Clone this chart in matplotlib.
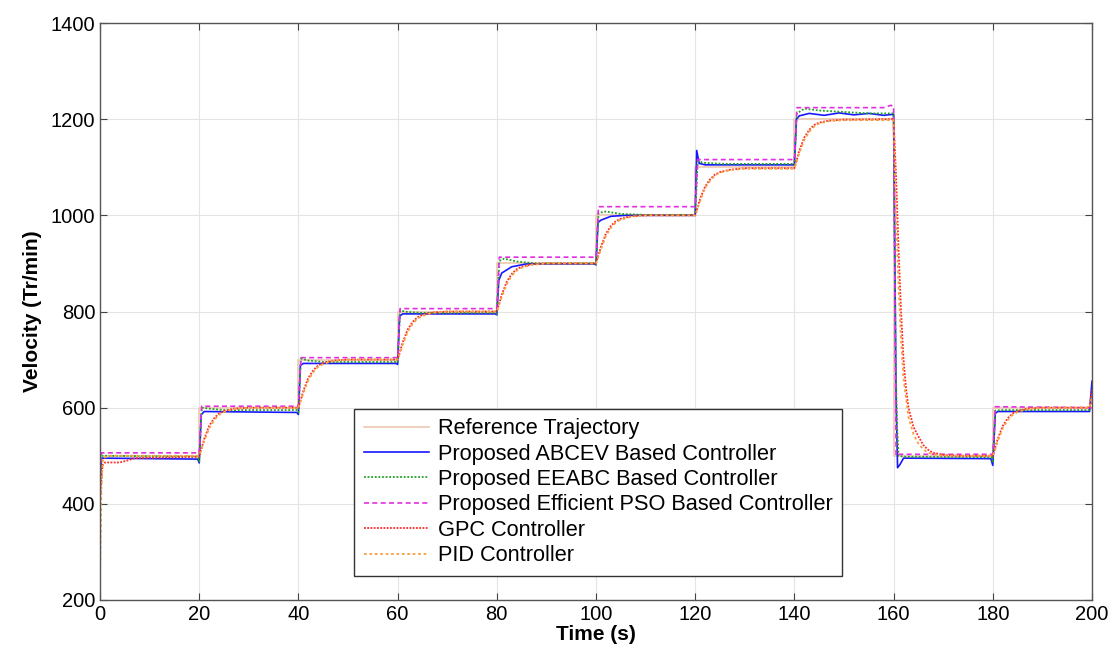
import matplotlib
matplotlib.use("Agg")
import matplotlib.pyplot as plt
import numpy as np

plt.rcParams['font.family'] = ['Liberation Sans', 'DejaVu Sans']

# reference staircase
ref_t = [0, 20, 40, 60, 80, 100, 120, 140, 160, 180, 200]
ref_v = [500, 600, 700, 800, 900, 1000, 1100, 1200, 500, 600, 600]

# Proposed ABCEV (blue)
abcev_t = [0, 0.3, 19.7,
           20, 20.4, 21, 39.7,
           40, 40.4, 41, 59.7,
           60, 60.4, 61, 79.7,
           80, 80.4, 81, 83, 86, 99.7,
           100, 100.4, 101, 103, 106, 119.7,
           120, 120.3, 120.8, 122, 139.7,
           140, 140.4, 141, 143, 146, 149, 152, 155, 158, 159.8,
           160, 160.5, 160.8, 161.3, 162, 179.6,
           180, 180.5, 181, 199.5, 200]
abcev_v = [430, 495, 493,
           485, 585, 592, 590,
           586, 688, 692, 692,
           690, 790, 795, 795,
           793, 865, 880, 893, 899, 899,
           897, 985, 990, 998, 1000, 1000,
           1000, 1135, 1108, 1105, 1105,
           1105, 1200, 1207, 1212, 1208, 1213, 1209, 1212, 1208, 1210,
           1210, 620, 475, 482, 495, 494,
           480, 588, 592, 592, 655]

# Proposed EEABC (green)
eeabc_t = [0, 0.3, 19.7,
           20, 20.5, 22, 25, 39.7,
           40, 40.5, 42, 45, 59.7,
           60, 60.5, 62, 65, 79.7,
           80, 80.5, 81.5, 84, 88, 99.7,
           100, 100.5, 102, 105, 110, 119.7,
           120, 120.5, 122, 126, 139.7,
           140, 140.5, 142, 145, 150, 155, 159.8,
           160, 160.4, 160.7, 161, 162, 179.7,
           180, 180.5, 182, 199.5, 200]
eeabc_v = [440, 500, 498,
           488, 600, 598, 595, 595,
           590, 702, 698, 695, 695,
           694, 802, 799, 797, 797,
           795, 905, 910, 904, 900, 900,
           898, 1005, 1008, 1003, 1001, 1001,
           1000, 1112, 1109, 1107, 1107,
           1105, 1212, 1222, 1218, 1215, 1212, 1212,
           1212, 700, 560, 500, 498, 497,
           485, 594, 595, 595, 620]

# Proposed Efficient PSO (magenta)
pso_t = [0, 0.3, 19.8,
         20, 20.5, 39.8,
         40, 40.5, 59.8,
         60, 60.5, 79.8,
         80, 80.5, 99.8,
         100, 100.5, 119.8,
         120, 120.5, 139.8,
         140, 140.5, 158, 159.5, 159.8,
         160, 160.5, 161, 179.8,
         180, 180.5, 199.8, 200]
pso_v = [450, 506, 506,
         506, 603, 603,
         603, 704, 704,
         704, 806, 806,
         806, 913, 913,
         913, 1018, 1018,
         1018, 1116, 1116,
         1116, 1224, 1224, 1229, 1226,
         1226, 500, 503, 503,
         503, 602, 600, 610]

# GPC (red)
gpc_t = [0, 0.5, 1, 4, 5.5, 7, 19.8,
         20, 21, 22, 23, 24, 25, 27, 30, 39.8,
         40, 41, 42, 43, 44, 45, 47, 50, 59.8,
         60, 61, 62, 63, 64, 65, 67, 70, 79.8,
         80, 81, 82, 83, 84, 85, 87, 90, 99.8,
         100, 101, 102, 103, 104, 105, 107, 110, 119.8,
         120, 121, 122, 123, 124, 125, 127, 130, 139.8,
         140, 141, 142, 143, 144, 145, 147, 150, 159.8,
         160, 160.5, 161, 161.5, 162, 162.5, 163, 164, 165, 166, 167, 168, 170, 173, 179.8,
         180, 181, 182, 183, 184, 185, 187, 190, 199.5, 200]
gpc_v = [405, 480, 486, 486, 490, 495, 498,
         498, 535, 562, 578, 588, 593, 598, 600, 600,
         600, 635, 662, 678, 688, 693, 698, 700, 700,
         700, 735, 762, 778, 788, 793, 798, 800, 800,
         800, 835, 862, 878, 888, 893, 898, 900, 900,
         900, 935, 962, 978, 988, 993, 998, 1000, 1000,
         1000, 1035, 1060, 1075, 1085, 1090, 1095, 1098, 1098,
         1098, 1135, 1162, 1178, 1188, 1193, 1197, 1199, 1200,
         1200, 1080, 930, 800, 700, 640, 600, 560, 540, 522, 512, 506, 502, 500, 500,
         500, 535, 562, 578, 588, 593, 598, 600, 600, 640]

# PID (orange)
pid_t = [0, 0.3, 0.6, 2, 19.8,
         20, 21, 22, 23, 24, 25, 27, 30, 39.8,
         40, 41, 42, 43, 44, 45, 47, 50, 59.8,
         60, 61, 62, 63, 64, 65, 67, 70, 79.8,
         80, 81, 82, 83, 84, 85, 87, 90, 99.8,
         100, 101, 102, 103, 104, 105, 107, 110, 119.8,
         120, 121, 122, 123, 124, 125, 127, 130, 139.8,
         140, 141, 142, 143, 144, 145, 147, 150, 159.8,
         160, 160.5, 161, 161.5, 162, 163, 164, 165, 166, 167, 169, 172, 179.8,
         180, 181, 182, 183, 184, 185, 187, 190, 199.5, 200]
pid_v = [250, 440, 495, 500, 500,
         500, 530, 557, 574, 585, 591, 597, 600, 600,
         600, 630, 657, 674, 685, 691, 697, 700, 700,
         700, 730, 757, 774, 785, 791, 797, 800, 800,
         800, 830, 857, 874, 885, 891, 897, 900, 900,
         900, 930, 957, 974, 985, 991, 997, 1000, 1000,
         1000, 1030, 1057, 1072, 1083, 1089, 1094, 1097, 1097,
         1097, 1130, 1157, 1174, 1185, 1191, 1196, 1198, 1198,
         1198, 1000, 850, 740, 660, 580, 545, 525, 513, 506, 501, 500, 500,
         500, 530, 557, 574, 585, 591, 597, 600, 600, 625]

fig = plt.figure(figsize=(11.2, 6.54), dpi=100)
ax = fig.add_axes([0.0893, 0.0826, 0.8857, 0.8822])

ax.plot(ref_t, ref_v, color='#ecc8b2', lw=1.2, drawstyle='steps-post',
        label='Reference Trajectory')
ax.plot(abcev_t, abcev_v, color='#1818ff', lw=1.2,
        label='Proposed ABCEV Based Controller')
ax.plot(eeabc_t, eeabc_v, color='#20a020', lw=1.3, ls=(0, (1, 1)),
        label='Proposed EEABC Based Controller')
ax.plot(pso_t, pso_v, color='#e030e0', lw=1.2, ls=(0, (3, 2)),
        label='Proposed Efficient PSO Based Controller')
ax.plot(gpc_t, gpc_v, color='#ff2828', lw=1.3, ls=(0, (1, 0.8)),
        label='GPC Controller')
ax.plot(pid_t, pid_v, color='#f5a040', lw=1.3, ls=(0, (1.5, 1.5)),
        label='PID Controller')

ax.set_xlim(0, 200)
ax.set_ylim(200, 1400)
ax.set_xticks(np.arange(0, 201, 20))
ax.set_yticks(np.arange(200, 1401, 200))
ax.grid(True, color='#e4e4e4', lw=0.8)
ax.tick_params(direction='in', top=True, right=True, length=5,
               labelsize=14.5, color='#444444')
for s in ax.spines.values():
    s.set_color('#555555')
    s.set_linewidth(1.0)

ax.set_xlabel('Time (s)', fontsize=15, fontweight='bold', labelpad=1)
ax.set_ylabel('Velocity (Tr/min)', fontsize=15, fontweight='bold', labelpad=6)

leg = ax.legend(loc='lower left', bbox_to_anchor=(0.256, 0.0416),
                borderaxespad=0, fontsize=15.7, fancybox=False,
                handlelength=3.0, handletextpad=0.4, labelspacing=0.2,
                borderpad=0.45, framealpha=1)
leg.get_frame().set_edgecolor('#333333')
leg.get_frame().set_linewidth(1.0)

plt.savefig('out.png', dpi=100)
